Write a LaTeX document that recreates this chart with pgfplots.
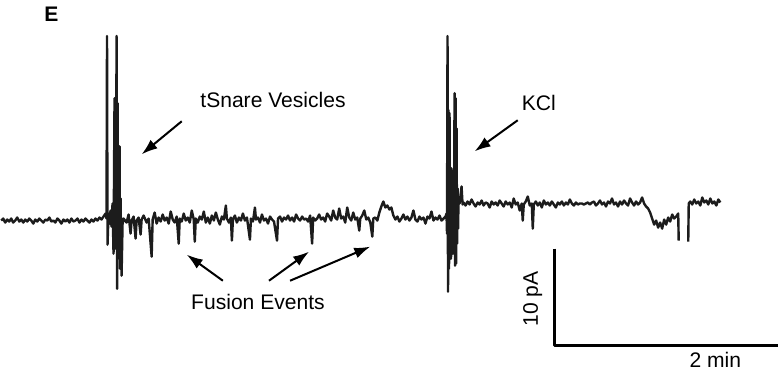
\documentclass[border=0pt]{standalone}
\usepackage{pgfplots}
\pgfplotsset{compat=1.18}
\usepackage{fontspec}
\setmainfont{Liberation Sans}
\usetikzlibrary{arrows.meta}
\definecolor{trace}{HTML}{1C1C1C}
\begin{document}
\begin{tikzpicture}
\begin{axis}[scale only axis, width=389.5pt, height=187pt,
  xmin=0, xmax=779, ymin=0, ymax=374, y dir=reverse,
  axis lines=none, clip=false,
  every axis plot/.append style={line join=round}]
% trace part 1
\addplot[trace, line width=1.2pt, mark=none] coordinates {
(5,222)(7,220)(9,224)(11,221)(13,223)(15,220)(17,224)(19,222)(21,219)(23,223)(25,221)(27,224)(29,221)(31,223)(33,220)(35,222)(37,225)(39,221)(41,223)(43,220)(45,222)(47,224)(49,221)(51,222)(53,219)(55,223)(57,222)(59,224)(61,220)(63,222)(65,225)(67,221)(69,223)(71,221)(73,224)(75,220)(77,223)(79,222)(81,220)(83,224)(85,221)(87,223)(89,220)(91,222)(93,224)(95,221)(97,223)(99,220)(101,222)(103,219)(105,221)(107,218)(109,215)(110,220)
(110.5,38)(111,246)(112,215)(113,225)(114,212)(115,228)(116,205)(117,255)
(118,100)(118.5,250)(119,105)(119.5,245)(120,38)(120.5,290)(121,105)(121.5,260)(122,150)(122.5,250)(123,148)(123.5,270)(124,200)(125,277)(126,225)
(127,220)(130,224)(132,216)(134,235)(135,222)(137,218)(139,240)(140,222)(142,219)(144,236)(145,221)(147,217)(150,224)(152,220)(155,258)(156,221)(158,214)(160,225)(162,219)(164,223)(166,216)(168,222)(170,219)(172,225)(174,213)(176,221)(178,224)(180,218)(182,245)(183,220)(185,223)(187,215)(189,222)(191,219)(193,224)(195,212)(197,221)(198,243)(199,220)(201,224)(203,218)(205,221)(207,213)(209,224)(211,219)(213,225)(215,217)(217,222)(219,214)(221,221)(223,226)(225,218)(227,221)(229,207)(230,220)(232,224)(234,219)(235,242)(236,221)(238,217)(240,224)(242,219)(244,222)(246,215)(248,222)(250,219)(253,241)(254,220)(256,223)(258,209)(259,221)(261,219)(263,224)(265,216)(267,222)(269,220)(271,225)(273,218)(275,221)(277,223)(280,242)(281,220)(283,218)(285,223)(287,219)(289,221)(291,217)(293,222)(295,219)(297,223)(299,216)(301,220)(303,222)(305,218)(307,221)(309,220)(311,223)(313,217)(315,245)(316,219)(318,222)(320,220)(322,216)(324,221)(326,219)(328,223)(330,215)(332,218)(334,222)(336,212)(338,219)(340,221)(342,210)(344,220)(346,218)(348,224)(350,209)(352,219)(354,222)(356,214)(358,221)(360,219)(362,232)(363,220)(365,217)(367,212)(369,221)(371,219)(373,224)(375,238)(376,220)(378,219)(380,222)(382,214)(384,208)(386,203)(388,209)(390,207)(392,211)(394,209)(396,217)(398,221)(400,218)(402,223)(404,220)(406,216)(408,221)(410,218)(412,222)(414,219)(416,212)(418,221)(420,223)(422,218)(424,221)(426,219)(428,225)(430,218)(432,220)(434,213)(436,222)(438,219)(440,221)(442,217)(444,222)(446,220)(448,218)
(449,215)(449.5,235)(450,38)(450.5,293)(451,112)(451.5,270)(452,115)(452.5,250)(453,180)(453.5,260)(454,170)(454.5,240)(455,185)(455.5,255)(456,180)(456.5,240)(457,95)(457.5,267)(458,100)(458.5,265)(459,130)(459.5,245)(460,190)(460.5,230)(461,200)(462,205)(464,188)(465,206)
(466,204)(468,207)(470,203)(472,206)(474,201)(476,205)(478,208)(480,204)(482,206)(484,202)(486,207)(488,204)(490,205)(492,209)(494,203)(496,206)(498,204)(500,207)(502,202)(504,205)(506,208)(508,203)(510,206)(512,204)(514,209)(516,200)(518,206)(520,204)(522,212)(524,205)(525,222)(526,206)(528,203)(530,198)(532,207)(534,205)(535,230)(536,206)(538,203)(540,207)(542,204)(544,209)(546,202)(548,206)(550,204)(552,207)(554,203)(556,206)(558,209)(560,204)(562,206)(564,203)(566,207)(568,204)(570,206)(572,201)(574,205)(576,207)(578,204)(580,206)(582,205)(584,205)(586,206)(588,205)(590,204)(592,206)(594,204)(596,203)(598,207)(600,205)(602,202)(604,206)(606,204)(608,208)(610,203)(612,205)(614,200)(616,206)(618,204)(620,208)(622,203)(624,206)(626,202)(628,205)(630,207)(632,200)(634,204)(636,207)(638,203)(640,206)(642,204)(644,199)(646,205)(648,208)(650,210)(652,214)(654,220)(656,226)(658,222)(660,229)(662,224)(664,230)(666,221)(668,226)(670,219)(672,223)(674,216)(676,220)(678,218)(680,215)(680.5,242)
};
% trace part 2
\addplot[trace, line width=1.2pt, mark=none] coordinates {
(690,243)(690.5,205)(692,203)(694,206)(696,201)(698,205)(700,203)(702,207)(704,199)(706,204)(708,202)(710,206)(712,200)(714,205)(716,203)(718,207)(720,201)(722,204)
};
% scale bar
\addplot[black, line width=1.5pt, mark=none] coordinates {(556.5,250)(556.5,347)(779,347)};
\end{axis}
\begin{scope}[font=\fontsize{10.5}{12}\selectfont, x=0.5pt, y=-0.5pt, yshift=187pt]
\node[font=\fontsize{10.5}{12}\selectfont\bfseries] at (55,16) {E};
\node at (276,102) {tSnare Vesicles};
\node at (541,105) {KCl};
\node at (261,303) {Fusion Events};
\node[rotate=90] at (535,300) {10 pA};
\node at (717,361) {2 min};
\draw[line width=1pt, -{Latex[length=8pt,width=5.5pt]}] (185,123) -- (145,156);
\draw[line width=1pt, -{Latex[length=8pt,width=5.5pt]}] (520,122) -- (477,153);
\draw[line width=1pt, -{Latex[length=8pt,width=5.5pt]}] (226,282) -- (190,256);
\draw[line width=1pt, -{Latex[length=8pt,width=5.5pt]}] (272,282) -- (312,253);
\draw[line width=1pt, -{Latex[length=8pt,width=5.5pt]}] (293,282) -- (373,248);
\end{scope}
\end{tikzpicture}
\end{document}
